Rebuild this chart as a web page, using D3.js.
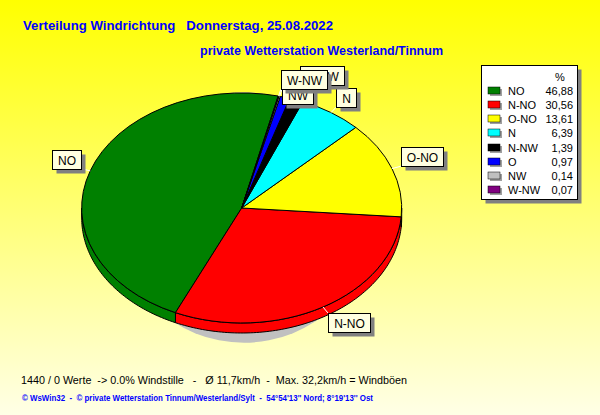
<!DOCTYPE html>
<html><head><meta charset="utf-8">
<script src="https://cdn.jsdelivr.net/npm/d3@7"></script>
<style>body{margin:0;background:#fff;} svg{display:block;}</style>
</head><body>
<svg id="chart" width="600" height="415"></svg>
<script>
// ---- data ----
const categories = ["NO", "N-NO", "O-NO", "N", "N-NW", "O", "NW", "W-NW"];
const values = [46.88, 30.56, 13.61, 6.39, 1.39, 0.97, 0.14, 0.07];
const valueLabels = ["46,88", "30,56", "13,61", "6,39", "1,39", "0,97", "0,14", "0,07"];
const sliceColors = ["#008000", "#ff0000", "#ffff00", "#00ffff", "#000000", "#0000ff", "#c0c0c0", "#800080"];
const title1 = "Verteilung Windrichtung   Donnerstag, 25.08.2022";
const title2 = "private Wetterstation Westerland/Tinnum";
const infoLine = "1440 / 0 Werte  -> 0.0% Windstille   -   Ø 11,7km/h  -  Max. 32,2km/h = Windböen";
const footerLine = "© WsWin32  -  © private Wetterstation Tinnum/Westerland/Sylt  -  54°54'13'' Nord; 8°19'13'' Ost";
const legendHeader = "%";

// ---- layout ----
const W = 600, H = 415;
const cx = 241.7, cy = 208, rx = 160, ry = 115, depth = 10;
const startDeg = 13.2;
const labelNudge = [0, 0, 0, 0, -8, 0, 14, 0]; // vertical nudges for overlapping labels
const font = "'Liberation Sans', Arial, sans-serif";

const svg = d3.select("#chart");
const defs = svg.append("defs");
const grad = defs.append("linearGradient").attr("id", "bg").attr("x1", 0).attr("y1", 0).attr("x2", 0).attr("y2", 1);
grad.append("stop").attr("offset", "0%").attr("stop-color", "#ffff00");
grad.append("stop").attr("offset", "100%").attr("stop-color", "#ffffe6");
svg.append("rect").attr("width", W).attr("height", H).attr("fill", "url(#bg)");

// titles
svg.append("text").attr("x", 23).attr("y", 30).attr("fill", "#0000ff")
  .attr("font-family", font).attr("font-weight", "bold").attr("font-size", 13)
  .style("white-space", "pre").attr("textLength", 310).attr("lengthAdjust", "spacingAndGlyphs").text(title1);
svg.append("text").attr("x", 200).attr("y", 55).attr("fill", "#0000ff")
  .attr("font-family", font).attr("font-weight", "bold").attr("font-size", 13)
  .style("white-space", "pre").attr("textLength", 243).attr("lengthAdjust", "spacingAndGlyphs").text(title2);

// pie
const rad = d => d * Math.PI / 180;
const pie = d3.pie().sort(null).value(d => d)
  .startAngle(rad(startDeg)).endAngle(rad(startDeg) - 2 * Math.PI);
const arcs = pie(values);
const px = (a, k = 1) => cx + Math.sin(a) * rx * k;
const py = (a, k = 1) => cy - Math.cos(a) * ry * k;

// shadow
svg.append("ellipse").attr("cx", 244).attr("cy", 217.5).attr("rx", 128).attr("ry", 125.2)
  .attr("fill", "#c0c0c0");

// side walls (front half only)
const sideG = svg.append("g");
arcs.forEach((a, i) => {
  const lo = Math.min(a.startAngle, a.endAngle), hi = Math.max(a.startAngle, a.endAngle);
  for (let k = -1; k <= 1; k++) {
    const s = Math.max(lo, Math.PI / 2 + 2 * Math.PI * k);
    const e = Math.min(hi, 3 * Math.PI / 2 + 2 * Math.PI * k);
    if (e <= s) continue;
    const n = Math.max(2, Math.ceil((e - s) / 0.02));
    const pts = [];
    for (let j = 0; j <= n; j++) { const t = s + (e - s) * j / n; pts.push([px(t), py(t)]); }
    for (let j = n; j >= 0; j--) { const t = s + (e - s) * j / n; pts.push([px(t), py(t) + depth]); }
    sideG.append("path").attr("d", d3.line()(pts) + "Z")
      .attr("fill", sliceColors[i]).attr("stroke", "#000").attr("stroke-width", 1)
      .attr("stroke-linejoin", "round");
  }
});

// top faces
const arcGen = d3.arc().innerRadius(0).outerRadius(1);
svg.append("g").attr("transform", `translate(${cx},${cy}) scale(${rx},${ry})`)
  .selectAll("path").data(arcs).join("path")
  .attr("d", arcGen)
  .attr("fill", (d, i) => sliceColors[i])
  .attr("stroke", "#000").attr("stroke-width", 1)
  .attr("vector-effect", "non-scaling-stroke");

// labels
const labG = svg.append("g");
arcs.forEach((a, i) => {
  const m = (a.startAngle + a.endAngle) / 2;
  const x0 = px(m), y0 = py(m), x1 = px(m, 1.06), y1 = py(m, 1.06);
  labG.append("line").attr("x1", x0).attr("y1", y0).attr("x2", x1).attr("y2", y1)
    .attr("stroke", "#ffffff").attr("stroke-width", 1);
  const g = labG.append("g");
  const t = g.append("text").attr("font-family", font).attr("font-size", 12).attr("fill", "#000")
    .attr("text-anchor", "middle").text(categories[i]);
  const tw = t.node().getComputedTextLength();
  const bw = Math.round(tw + 11), bh = 19;
  let bx = Math.sin(m) >= 0 ? x1 : x1 - bw;
  let by = (-Math.cos(m)) <= 0 ? y1 - bh : y1;
  by += labelNudge[i];
  bx = Math.round(bx) + 0.5; by = Math.round(by) + 0.5;
  g.insert("rect", "text").attr("x", bx + 4).attr("y", by + 4).attr("width", bw).attr("height", bh).attr("fill", "#808080");
  g.insert("rect", "text").attr("x", bx).attr("y", by).attr("width", bw).attr("height", bh)
    .attr("fill", "#ffffe1").attr("stroke", "#000").attr("stroke-width", 1);
  t.attr("x", bx + bw / 2).attr("y", by + 14);
});

// legend
const lg = svg.append("g");
const lx = 481.5, ly = 65.5, lw = 96, lh = 134;
lg.append("rect").attr("x", lx + 4).attr("y", ly + 4).attr("width", lw).attr("height", lh).attr("fill", "#808080");
lg.append("rect").attr("x", lx).attr("y", ly).attr("width", lw).attr("height", lh)
  .attr("fill", "#ffffff").attr("stroke", "#000");
lg.append("text").attr("x", 560).attr("y", 81).attr("font-family", font).attr("font-size", 11)
  .attr("text-anchor", "middle").text(legendHeader);
const rowY = d3.scalePoint().domain(categories).range([91, 190]);
categories.forEach((c, i) => {
  const y = Math.round(rowY(c));
  lg.append("rect").attr("x", 490).attr("y", y - 2).attr("width", 12).attr("height", 7).attr("fill", "#a0a0a0");
  lg.append("rect").attr("x", 488).attr("y", y - 4).attr("width", 12).attr("height", 7).attr("fill", sliceColors[i])
    .attr("stroke", "#000").attr("stroke-width", 0.5);
  lg.append("text").attr("x", 508).attr("y", y + 4).attr("font-family", font).attr("font-size", 11).text(c);
  lg.append("text").attr("x", 573).attr("y", y + 4).attr("font-family", font).attr("font-size", 11)
    .attr("text-anchor", "end").text(valueLabels[i]);
});

// bottom texts
svg.append("text").attr("x", 21).attr("y", 384).attr("font-family", font).attr("font-size", 11.5)
  .attr("fill", "#000").style("white-space", "pre")
  .attr("textLength", 386).attr("lengthAdjust", "spacingAndGlyphs").text(infoLine);
svg.append("text").attr("x", 22).attr("y", 401).attr("font-family", font).attr("font-size", 8.5)
  .attr("font-weight", "bold").attr("fill", "#0000ff").style("white-space", "pre")
  .attr("textLength", 351).attr("lengthAdjust", "spacingAndGlyphs").text(footerLine);
</script>
</body></html>
